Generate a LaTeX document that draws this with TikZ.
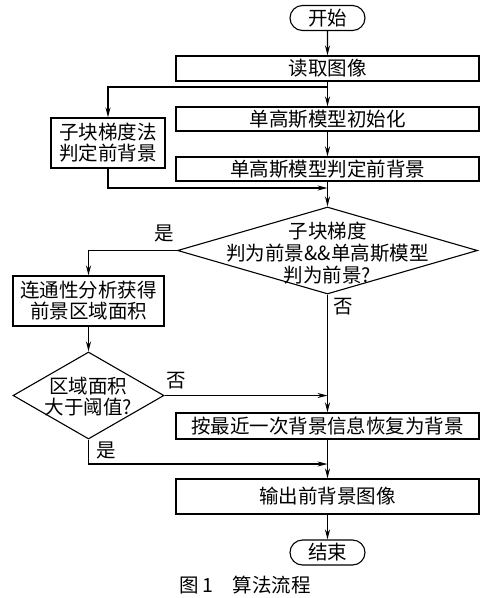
\documentclass[tikz,border=0pt]{standalone}
\usepackage{fontspec}
\setmainfont{Noto Sans CJK SC}
\usetikzlibrary{shapes.geometric,shapes.misc,arrows.meta}
\begin{document}
\begin{tikzpicture}[x=1pt,y=-1pt,
  every node/.style={font=\fontsize{19.5}{23}\selectfont},
  box/.style={draw,line width=1.1pt,rectangle,inner sep=0pt,minimum width=303pt,align=center},
  sbox/.style={draw,line width=1.1pt,rectangle,inner sep=0pt,minimum width=151pt,minimum height=50pt,align=center},
  term/.style={draw,line width=1.1pt,rounded rectangle,inner sep=0pt,minimum width=75pt,minimum height=25pt},
  dia/.style={draw,line width=1.1pt,diamond,inner sep=0pt},
  lbl/.style={inner sep=0pt},
  conn/.style={line width=1.1pt,-{Stealth[length=10pt,width=5pt]}},
  line/.style={line width=1.1pt}]
\useasboundingbox (0,0) rectangle (499,598);

\node[term] (start) at (327.5,18) {开始};
\node[box,minimum height=25pt] (read) at (327.5,68.5) {读取图像};
\node[box,minimum height=24pt] (init) at (327.5,119) {单高斯模型初始化};
\node[box,minimum height=24pt] (judge) at (327.5,169) {单高斯模型判定前背景};
\node[draw,line width=1.1pt,inner sep=0pt,minimum width=114pt,minimum height=50pt,align=center] (sub) at (108,143) {子块梯度法\\[-2pt]判定前背景};

\node[dia,minimum width=300pt,minimum height=87pt] (d1) at (327.5,250.5) {};
\node[lbl,align=center] (d1t) at (327.5,253) {子块梯度\\[-1pt]判为前景\&\&单高斯模型\\[-1pt]判为前景?};

\node[sbox] (cc) at (88.5,301) {连通性分析获得\\[-2pt]前景区域面积};
\node[dia,minimum width=151pt,minimum height=87pt] (d2) at (88.5,395.5) {};
\node[lbl,align=center] (d2t) at (88.5,397) {区域面积\\[-2pt]大于阈值?};

\node[box,minimum height=26pt] (rest) at (327.5,426) {按最近一次背景信息恢复为背景};
\node[box,minimum height=35pt] (out) at (327.5,496.5) {输出前背景图像};
\node[term] (end) at (327.5,552.5) {结束};

\node[lbl] (cap) at (245,585) {图\,1\quad 算法流程};

\coordinate (sp) at (327.5,87);
\coordinate (m1) at (327.5,188);
\coordinate (m2) at (327.5,395.5);
\coordinate (m3) at (327.5,464);

\draw[conn] (start) -- (read);
\draw[conn] (read) -- (init);
\draw[conn] (sp) -| (sub.north);
\draw[conn] (init) -- (judge);
\draw[conn] (judge) -- (d1.north);
\draw[conn] (sub.south) |- (m1);
\draw[conn] (d1.west) -| (cc.north);
\draw[conn] (cc) -- (d2.north);
\draw[conn] (d1.south) -- (rest.north);
\draw[conn] (d2.east) -- (m2);
\draw[conn] (d2.south) |- (m3);
\draw[conn] (rest) -- (out);
\draw[conn] (out) -- (end);

\node[lbl] (yes1) at (164,233) {是};
\node[lbl] (no1) at (343,307) {否};
\node[lbl] (no2) at (176,381) {否};
\node[lbl] (yes2) at (106,450) {是};
\end{tikzpicture}
\end{document}
